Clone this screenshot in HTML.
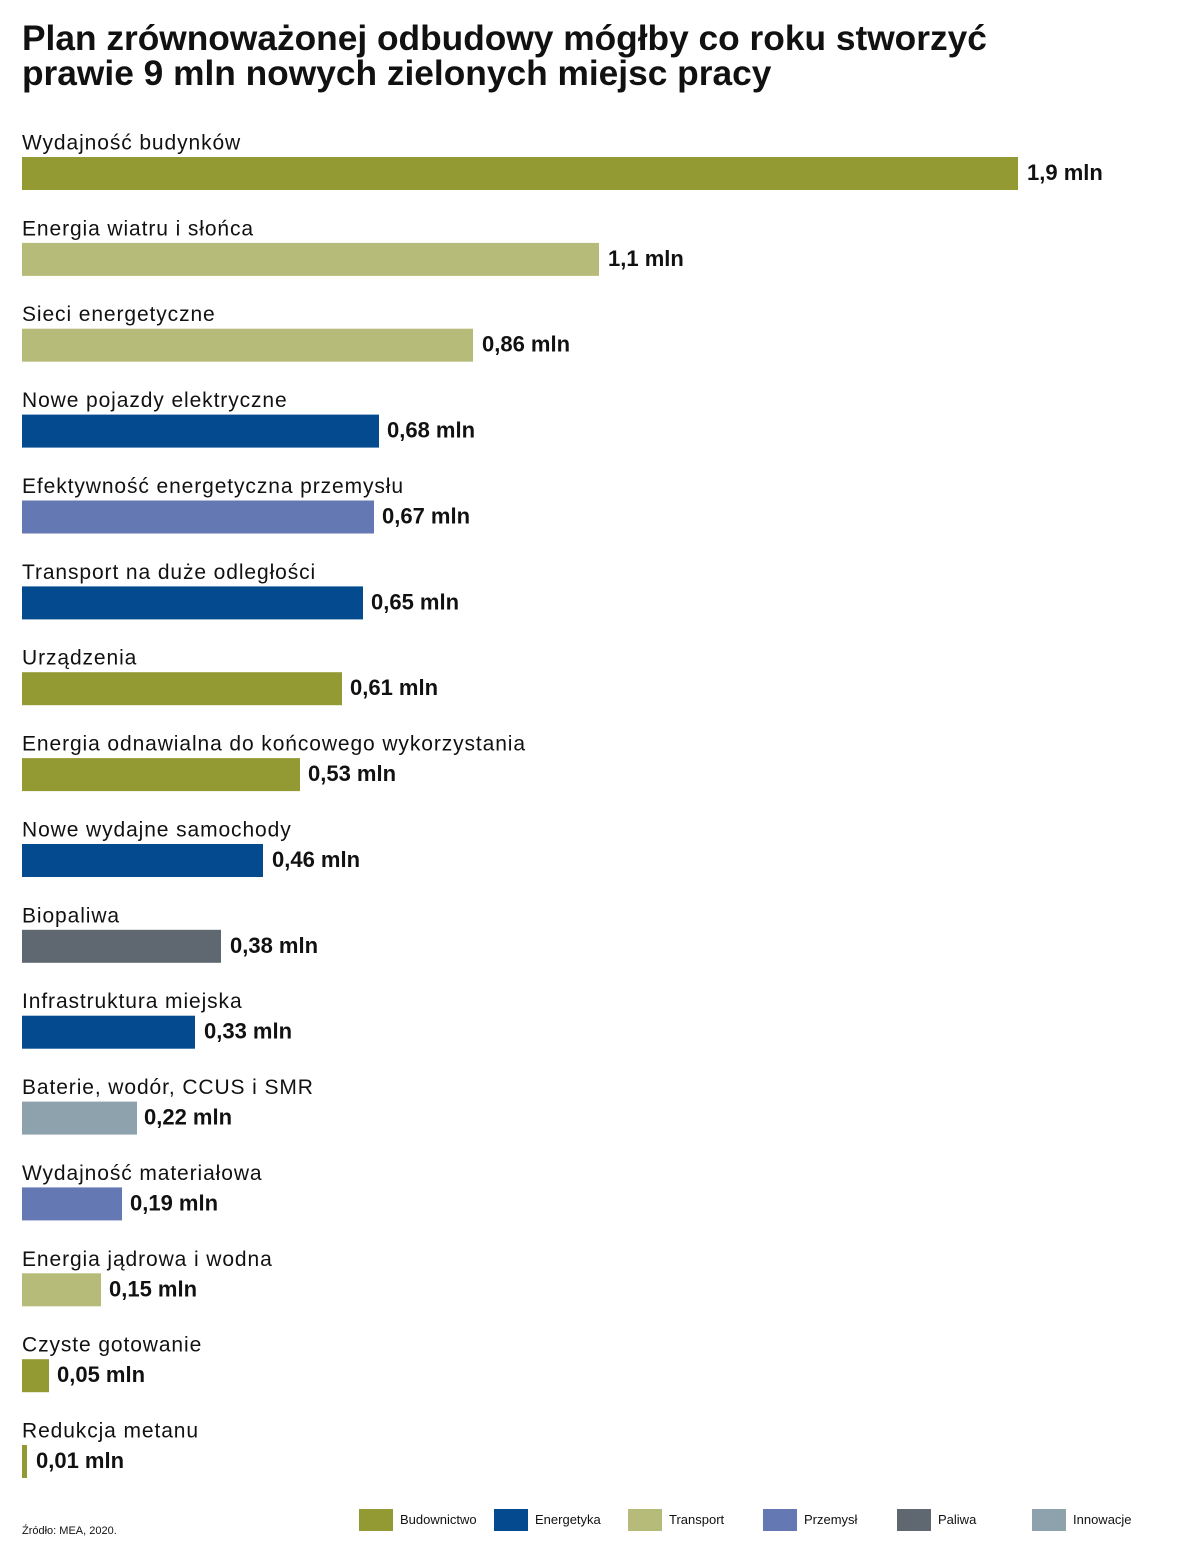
<!DOCTYPE html>
<html>
<head>
<meta charset="utf-8">
<style>
  html,body{margin:0;padding:0;background:#fff;}
  svg{display:block;}
  .t{font-family:"Liberation Sans",sans-serif;font-weight:bold;font-size:35.3px;fill:#111;}
  .l{font-family:"Liberation Sans",sans-serif;font-size:21px;letter-spacing:0.9px;fill:#111;}
  .v{font-family:"Liberation Sans",sans-serif;font-weight:bold;font-size:22px;fill:#111;}
  .lg{font-family:"Liberation Sans",sans-serif;font-size:13px;fill:#111;}
  .s{font-family:"Liberation Sans",sans-serif;font-size:11px;fill:#111;}
</style>
</head>
<body>
<svg width="1200" height="1563" viewBox="0 0 1200 1563" xmlns="http://www.w3.org/2000/svg">
  <rect width="1200" height="1563" fill="#fff"/>
  <text class="t" x="22" y="50">Plan zrównoważonej odbudowy mógłby co roku stworzyć</text>
  <text class="t" x="22" y="85">prawie 9 mln nowych zielonych miejsc pracy</text>

  <g>
    <text class="l" x="22" y="149.5">Wydajność budynków</text>
    <rect x="22" y="157" width="996" height="33" fill="#949a33"/>
    <text class="v" x="1027" y="180">1,9 mln</text>

    <text class="l" x="22" y="235.4">Energia wiatru i słońca</text>
    <rect x="22" y="242.9" width="577" height="33" fill="#b7bb7a"/>
    <text class="v" x="608" y="265.9">1,1 mln</text>

    <text class="l" x="22" y="321.2">Sieci energetyczne</text>
    <rect x="22" y="328.7" width="451" height="33" fill="#b7bb7a"/>
    <text class="v" x="482" y="351.7">0,86 mln</text>

    <text class="l" x="22" y="407.1">Nowe pojazdy elektryczne</text>
    <rect x="22" y="414.6" width="357" height="33" fill="#034b8e"/>
    <text class="v" x="387" y="437.6">0,68 mln</text>

    <text class="l" x="22" y="493">Efektywność energetyczna przemysłu</text>
    <rect x="22" y="500.5" width="352" height="33" fill="#6478b4"/>
    <text class="v" x="382" y="523.5">0,67 mln</text>

    <text class="l" x="22" y="578.9">Transport na duże odległości</text>
    <rect x="22" y="586.4" width="341" height="33" fill="#034b8e"/>
    <text class="v" x="371" y="609.4">0,65 mln</text>

    <text class="l" x="22" y="664.7">Urządzenia</text>
    <rect x="22" y="672.2" width="320" height="33" fill="#949a33"/>
    <text class="v" x="350" y="695.2">0,61 mln</text>

    <text class="l" x="22" y="750.6">Energia odnawialna do końcowego wykorzystania</text>
    <rect x="22" y="758.1" width="278" height="33" fill="#949a33"/>
    <text class="v" x="308" y="781.1">0,53 mln</text>

    <text class="l" x="22" y="836.5">Nowe wydajne samochody</text>
    <rect x="22" y="844" width="241" height="33" fill="#034b8e"/>
    <text class="v" x="272" y="867">0,46 mln</text>

    <text class="l" x="22" y="922.3">Biopaliwa</text>
    <rect x="22" y="929.8" width="199" height="33" fill="#5f6770"/>
    <text class="v" x="230" y="952.8">0,38 mln</text>

    <text class="l" x="22" y="1008.2">Infrastruktura miejska</text>
    <rect x="22" y="1015.7" width="173" height="33" fill="#034b8e"/>
    <text class="v" x="204" y="1038.7">0,33 mln</text>

    <text class="l" x="22" y="1094.1">Baterie, wodór, CCUS i SMR</text>
    <rect x="22" y="1101.6" width="115" height="33" fill="#8ea2ae"/>
    <text class="v" x="144" y="1124.6">0,22 mln</text>

    <text class="l" x="22" y="1179.9">Wydajność materiałowa</text>
    <rect x="22" y="1187.4" width="100" height="33" fill="#6478b4"/>
    <text class="v" x="130" y="1210.4">0,19 mln</text>

    <text class="l" x="22" y="1265.8">Energia jądrowa i wodna</text>
    <rect x="22" y="1273.3" width="79" height="33" fill="#b7bb7a"/>
    <text class="v" x="109" y="1296.3">0,15 mln</text>

    <text class="l" x="22" y="1351.7">Czyste gotowanie</text>
    <rect x="22" y="1359.2" width="27" height="33" fill="#949a33"/>
    <text class="v" x="57" y="1382.2">0,05 mln</text>

    <text class="l" x="22" y="1437.5">Redukcja metanu</text>
    <rect x="22" y="1445" width="5" height="33" fill="#949a33"/>
    <text class="v" x="36" y="1468">0,01 mln</text>
  </g>

  <g>
    <rect x="359" y="1509" width="34" height="22" fill="#949a33"/>
    <text class="lg" x="400" y="1524">Budownictwo</text>
    <rect x="494" y="1509" width="34" height="22" fill="#034b8e"/>
    <text class="lg" x="535" y="1524">Energetyka</text>
    <rect x="628" y="1509" width="34" height="22" fill="#b7bb7a"/>
    <text class="lg" x="669" y="1524">Transport</text>
    <rect x="763" y="1509" width="34" height="22" fill="#6478b4"/>
    <text class="lg" x="804" y="1524">Przemysł</text>
    <rect x="897" y="1509" width="34" height="22" fill="#5f6770"/>
    <text class="lg" x="938" y="1524">Paliwa</text>
    <rect x="1032" y="1509" width="34" height="22" fill="#8ea2ae"/>
    <text class="lg" x="1073" y="1524">Innowacje</text>
  </g>

  <text class="s" x="22" y="1534">Źródło: MEA, 2020.</text>
</svg>
</body>
</html>
